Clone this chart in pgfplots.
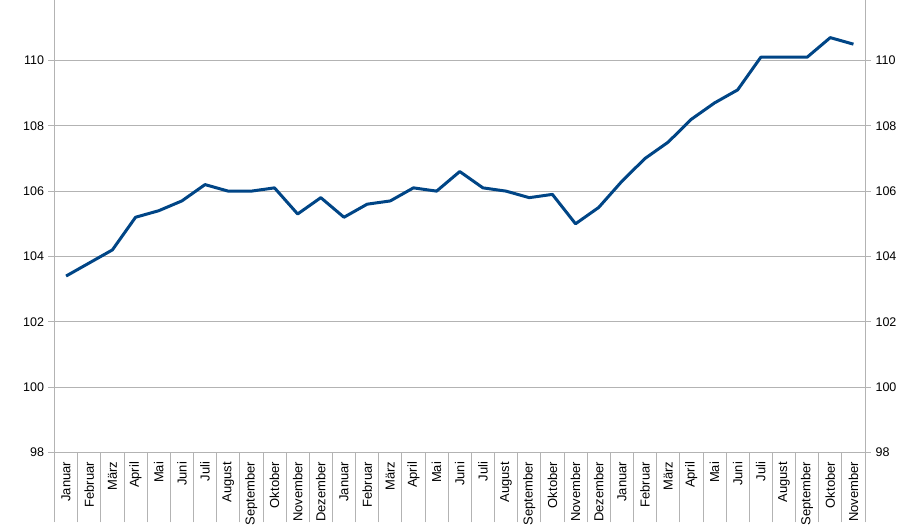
\documentclass[border=0pt]{standalone}
\usepackage{fontspec}
\setmainfont{Liberation Sans}
\usepackage{pgfplots}
\usepackage{pgfplotstable}
\pgfplotsset{compat=1.18}
\definecolor{series}{HTML}{004586}
\definecolor{gridc}{HTML}{B3B3B3}
\pgfplotstableread{
x y
0 103.4
1 103.8
2 104.2
3 105.2
4 105.4
5 105.7
6 106.2
7 106.0
8 106.0
9 106.1
10 105.3
11 105.8
12 105.2
13 105.6
14 105.7
15 106.1
16 106.0
17 106.6
18 106.1
19 106.0
20 105.8
21 105.9
22 105.0
23 105.5
24 106.3
25 107.0
26 107.5
27 108.2
28 108.7
29 109.1
30 110.1
31 110.1
32 110.1
33 110.7
34 110.5
}\data
\pgfplotsset{common/.style={
  width=810.5pt, height=452pt, scale only axis,
  xmin=-0.5, xmax=34.5, ymin=98, ymax=111.84,
  ytick={98,100,...,110},
  /pgf/number format/assume math mode=true,
  tick label style={font=\fontsize{12.5}{14}\selectfont},
  axis line style={gridc, line width=0.8pt},
  tick style={gridc, line width=0.8pt},
  tick align=outside,
  major tick length=6pt,
}}
\begin{document}
\begin{tikzpicture}
\begin{axis}[common,
  axis y line*=left, axis x line*=bottom,
  ymajorgrids, grid style={gridc, line width=0.8pt},
  xtick={0,...,34},
  xticklabels={Januar,Februar,März,April,Mai,Juni,Juli,August,September,Oktober,November,Dezember,Januar,Februar,März,April,Mai,Juni,Juli,August,September,Oktober,November,Dezember,Januar,Februar,März,April,Mai,Juni,Juli,August,September,Oktober,November},
  x tick label style={rotate=90, anchor=east, font=\fontsize{13}{14}\selectfont, yshift=0pt},
  xtick style={draw=none},
  minor xtick={-0.5,0.5,...,34.5},
  minor x tick style={draw=gridc, line width=0.8pt},
  minor tick length=70pt,
  yticklabel style={xshift=-1pt},
]
\addplot[series, line width=3pt, line join=round] table[x=x,y=y]{\data};
\path (rel axis cs:0,0) ++(-54.5pt,-75pt) coordinate (bl);
\path (rel axis cs:1,1) ++(42pt,0pt) coordinate (tr);
\end{axis}
\begin{axis}[common,
  axis y line*=right, axis x line=none,
  yticklabel style={xshift=1pt},
]
\end{axis}
\useasboundingbox (bl) rectangle (tr);
\end{tikzpicture}
\end{document}
